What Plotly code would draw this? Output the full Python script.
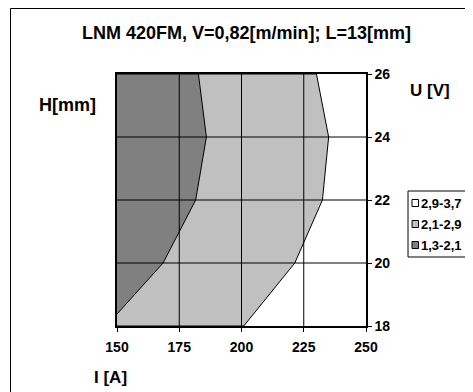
import plotly.graph_objects as go

# ---- data ----
I_ticks = [150, 175, 200, 225, 250]
U_ticks = [18, 20, 22, 24, 26]
# boundary between 1,3-2,1 and 2,1-2,9 regions (top to bottom)
dark_I = [182.7, 185.9, 181.6, 168.5, 150.0]
dark_U = [26, 24, 22, 20, 18.38]
# boundary between 2,1-2,9 and 2,9-3,7 regions (top to bottom)
light_I = [230.1, 235.0, 232.5, 221.4, 200.9]
light_U = [26, 24, 22, 20, 18]
legend_labels = ["2,9-3,7", "2,1-2,9", "1,3-2,1"]
legend_colors = ["#FFFFFF", "#C0C0C0", "#808080"]
title_text = "LNM 420FM, V=0,82[m/min]; L=13[mm]"

OFF = 8  # page body margin
W, H = 473 - OFF, 392 - OFF
L, R, T, B = 117, 366, 74, 326  # plot area in page pixels

def px(x):
    return (x - L) / (R - L)

def py(y):
    return (B - y) / (B - T)

FONT = "Arial, Liberation Sans, sans-serif"

fig = go.Figure()

Imin, Imax = I_ticks[0], I_ticks[-1]
Umin, Umax = U_ticks[0], U_ticks[-1]

fig.add_trace(go.Scatter(
    x=[Imin] + light_I + [Imin], y=[Umax] + light_U + [Umin],
    mode="lines", fill="toself", fillcolor=legend_colors[1],
    line=dict(color="black", width=1), showlegend=False, hoverinfo="skip"))
fig.add_trace(go.Scatter(
    x=[Imin] + dark_I, y=[Umax] + dark_U,
    mode="lines", fill="toself", fillcolor=legend_colors[2],
    line=dict(color="black", width=1), showlegend=False, hoverinfo="skip"))

shapes = []
for v in I_ticks[1:-1]:
    shapes.append(dict(type="line", xref="x", yref="paper", x0=v, x1=v, y0=0, y1=1,
                       line=dict(color="black", width=1), layer="above"))
for v in U_ticks[1:-1]:
    shapes.append(dict(type="line", xref="paper", yref="y", x0=0, x1=1, y0=v, y1=v,
                       line=dict(color="black", width=1), layer="above"))

# outer chart border (left and top visible)
shapes.append(dict(type="line", xref="paper", yref="paper", x0=px(10.5), x1=px(10.5),
                   y0=py(8.5), y1=py(400), line=dict(color="black", width=1)))
shapes.append(dict(type="line", xref="paper", yref="paper", x0=px(10.5), x1=px(480),
                   y0=py(8.5), y1=py(8.5), line=dict(color="black", width=1)))

# legend
shapes.append(dict(type="rect", xref="paper", yref="paper", x0=px(408), x1=px(469),
                   y0=py(257), y1=py(191), line=dict(color="black", width=1),
                   fillcolor="white"))
annotations = []
for i, (lab, col) in enumerate(zip(legend_labels, legend_colors)):
    cy = 203 + i * 21
    shapes.append(dict(type="rect", xref="paper", yref="paper", x0=px(412), x1=px(418.5),
                       y0=py(cy + 3.5), y1=py(cy - 3.5), line=dict(color="black", width=1),
                       fillcolor=col))
    annotations.append(dict(text=lab, xref="paper", yref="paper", x=px(419), y=py(cy),
                            xanchor="left", yanchor="middle", showarrow=False,
                            font=dict(family=FONT, size=13, color="black", weight="bold")))

annotations += [
    dict(text=title_text, xref="paper", yref="paper", x=px(246), y=py(33.5),
         xanchor="center", yanchor="middle", showarrow=False,
         font=dict(family=FONT, size=18, color="black", weight="bold")),
    dict(text="U [V]", xref="paper", yref="paper", x=px(430), y=py(90),
         xanchor="center", yanchor="middle", showarrow=False,
         font=dict(family=FONT, size=17, color="black", weight="bold")),
    dict(text="H[mm]", xref="paper", yref="paper", x=px(67), y=py(105),
         xanchor="center", yanchor="middle", showarrow=False,
         font=dict(family=FONT, size=18, color="black", weight="bold")),
    dict(text="I [A]", xref="paper", yref="paper", x=px(110), y=py(377),
         xanchor="center", yanchor="middle", showarrow=False,
         font=dict(family=FONT, size=17, color="black", weight="bold")),
]

tickfont = dict(family=FONT, size=14, color="black", weight="bold")
fig.update_layout(
    width=W, height=H,
    margin=dict(l=L - OFF, r=473 - R, t=T - OFF, b=392 - B, pad=0),
    paper_bgcolor="white", plot_bgcolor="white",
    showlegend=False,
    shapes=shapes, annotations=annotations,
    xaxis=dict(range=[Imin, Imax], tickvals=I_ticks, showgrid=False, zeroline=False,
               showline=True, linecolor="black", linewidth=1.5, mirror=True,
               ticks="outside", ticklen=4, tickcolor="black", tickfont=tickfont,
               ticklabelstandoff=3, layer="above traces"),
    yaxis=dict(range=[Umin, Umax], tickvals=U_ticks, side="right", showgrid=False,
               zeroline=False, showline=True, linecolor="black", linewidth=1.5,
               mirror=True, ticks="outside", ticklen=4, tickcolor="black",
               tickfont=tickfont, layer="above traces"),
)

fig.write_html("out.html")
